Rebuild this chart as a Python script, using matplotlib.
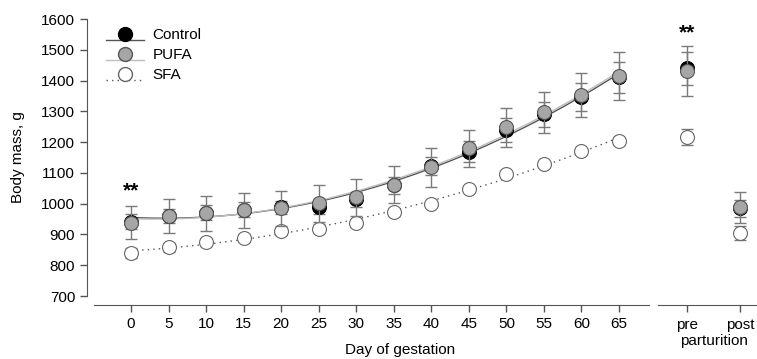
import numpy as np
import matplotlib
matplotlib.use("Agg")
import matplotlib.pyplot as plt
from matplotlib.legend_handler import HandlerLine2DCompound
from matplotlib.lines import Line2D

plt.rcParams['font.family'] = ['Liberation Sans', 'DejaVu Sans']

days = [0, 5, 10, 15, 20, 25, 30, 35, 40, 45, 50, 55, 60, 65]
control = [942, 960, 971, 981, 988, 990, 1014, 1060, 1122, 1169, 1239, 1290, 1346, 1411]
control_se = [23, 24, 25, 23, 22, 22, 25, 28, 30, 35, 39, 40, 45, 50]
pufa = [938, 960, 969, 978, 985, 1001, 1021, 1061, 1118, 1180, 1248, 1297, 1353, 1415]
pufa_se = [53, 55, 57, 57, 57, 60, 60, 60, 63, 60, 63, 67, 73, 78]
sfa = [840, 858, 876, 889, 910, 919, 937, 972, 1000, 1048, 1096, 1129, 1172, 1204]
sfa_se = [15, 14, 12, 12, 12, 14, 12, 12, 10, 10, 10, 10, 10, 12]

part_labels = ["pre", "post"]
control_part = [1440, 985]
control_part_se = [53, 27]
pufa_part = [1432, 988]
pufa_part_se = [81, 50]
sfa_part = [1218, 904]
sfa_part_se = [26, 22]

yticks = [700, 800, 900, 1000, 1100, 1200, 1300, 1400, 1500, 1600]
xticks = days

W, H = 757, 359
fig = plt.figure(figsize=(W / 100, H / 100), dpi=100)

y_bottom_px, y_top_px = 305, 19
ylo = 700 - (305 - 296) / ((296 - 19) / 900)
yhi = 1600
ax1 = fig.add_axes([87 / W, 1 - y_bottom_px / H, (649 - 87) / W, (y_bottom_px - y_top_px) / H])
ax2 = fig.add_axes([658 / W, 1 - y_bottom_px / H, (757 - 658) / W, (y_bottom_px - y_top_px) / H])

spine_col = '#555555'
err_col = '#7a7a7a'
ms = 10
cap = 4.5
fs = 11

for ax in (ax1, ax2):
    ax.set_ylim(ylo, yhi)
    ax.spines['top'].set_visible(False)
    ax.spines['right'].set_visible(False)
    ax.spines['bottom'].set_color(spine_col)
    ax.spines['left'].set_color(spine_col)
    ax.tick_params(colors=spine_col, labelcolor='black', labelsize=fs, length=5, width=1)
    ax.patch.set_alpha(0)

ax1.set_xlim(-5.87, 69)
ax1.spines['bottom'].set_bounds(-5, 69)
ax1.spines['left'].set_bounds(700, 1600)
ax1.set_yticks(yticks)
ax1.set_xticks(xticks)
ax1.tick_params(axis='x', pad=4)

ax2.set_xlim(-0.55, 1.32)
ax2.spines['left'].set_visible(False)
ax2.set_yticks([])
ax2.set_xticks([0, 1])
ax2.set_xticklabels(part_labels)
ax2.tick_params(axis='x', pad=4)

# fitted curves
xs = np.linspace(min(days), max(days), 200)
for vals, col, ls in [(sfa, '#555555', (0, (1, 3))), (control, '#555555', '-'), (pufa, '#bdbdbd', '-')]:
    p = np.polyfit(days, vals, 2)
    ax1.plot(xs, np.polyval(p, xs), color=col, lw=1, ls=ls, zorder=2)

def draw(ax, x, vals, se, face, edge, z):
    ax.errorbar(x, vals, yerr=se, fmt='none', ecolor=err_col, elinewidth=1,
                capsize=cap, capthick=1, zorder=z, clip_on=False)
    ax.plot(x, vals, 'o', ms=ms, mfc=face, mec=edge, mew=0.8, ls='none', zorder=z + 0.5, clip_on=False)

draw(ax1, days, sfa, sfa_se, 'white', '#666666', 3)
draw(ax1, days, control, control_se, 'black', 'black', 4)
draw(ax1, days, pufa, pufa_se, '#a6a6a6', '#555555', 5)
draw(ax2, [0, 1], sfa_part, sfa_part_se, 'white', '#666666', 3)
draw(ax2, [0, 1], control_part, control_part_se, 'black', 'black', 4)
draw(ax2, [0, 1], pufa_part, pufa_part_se, '#a6a6a6', '#555555', 5)

ax1.text(0, 1040, '**', ha='center', va='center', fontsize=15, fontweight='bold')
ax2.text(0, 1555, '**', ha='center', va='center', fontsize=15, fontweight='bold', clip_on=False)

# legend
class LowLineHandler(HandlerLine2DCompound):
    def create_artists(self, legend, orig_handle, xdescent, ydescent, width, height, fontsize, trans):
        arts = super().create_artists(legend, orig_handle, xdescent, ydescent, width, height, fontsize, trans)
        line = arts[0]
        line.set_ydata(np.asarray(line.get_ydata()) - height * 0.55)
        return arts

h_c = Line2D([], [], color='#555555', lw=1, marker='o', ms=ms, mfc='black', mec='black')
h_p = Line2D([], [], color='#bdbdbd', lw=1, marker='o', ms=ms, mfc='#a6a6a6', mec='#555555')
h_s = Line2D([], [], color='#555555', lw=1, ls=(0, (1, 3)), marker='o', ms=ms, mfc='white', mec='#666666')
fig.legend([h_c, h_p, h_s], ['Control', 'PUFA', 'SFA'], loc='upper left',
           bbox_to_anchor=(106 / W, 1 - 28 / H), frameon=False, fontsize=fs,
           handlelength=2.5, handletextpad=0.55, labelspacing=0.4, borderpad=0, borderaxespad=0,
           handler_map={Line2D: LowLineHandler()})

fig.text(18 / W, 1 - 157 / H, 'Body mass, g', rotation=90, ha='center', va='center', fontsize=fs)
fig.text(400 / W, 1 - 350 / H, 'Day of gestation', ha='center', va='center', fontsize=fs)
fig.text(714 / W, 1 - 341 / H, 'parturition', ha='center', va='center', fontsize=fs)

fig.savefig('out.png', dpi=100)
